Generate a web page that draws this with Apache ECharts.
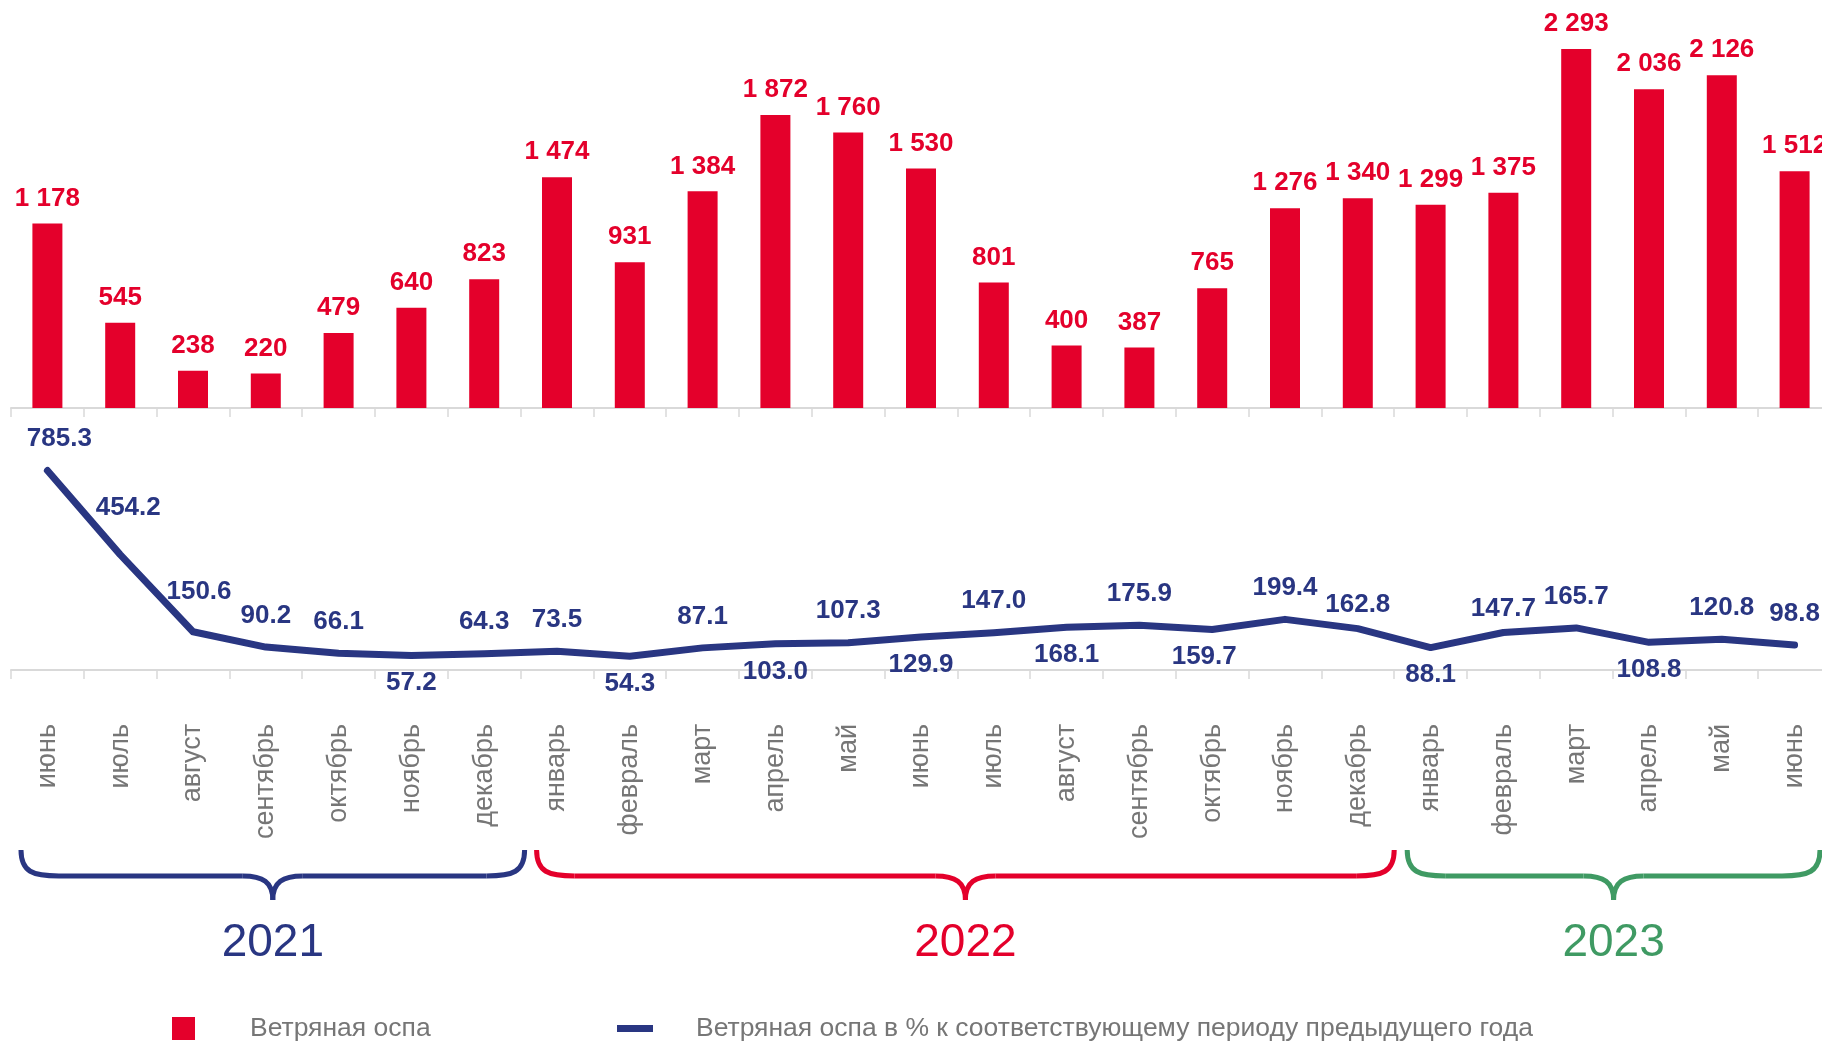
<!DOCTYPE html>
<html>
<head>
<meta charset="utf-8">
<script src="https://cdn.jsdelivr.net/npm/echarts/dist/echarts.min.js"></script>
<style>
html,body{margin:0;padding:0;background:#fff;}
#chart{width:1822px;height:1042px;}
</style>
</head>
<body>
<div id="chart"></div>
<script>
const months = ['июнь','июль','август','сентябрь','октябрь','ноябрь','декабрь',
  'январь','февраль','март','апрель','май','июнь','июль','август','сентябрь','октябрь','ноябрь','декабрь',
  'январь','февраль','март','апрель','май','июнь'];
const cases = [1178,545,238,220,479,640,823,1474,931,1384,1872,1760,1530,801,400,387,765,1276,1340,1299,1375,2293,2036,2126,1512];
const pctPrevYear = [785.3,454.2,150.6,90.2,66.1,57.2,64.3,73.5,54.3,87.1,103.0,107.3,129.9,147.0,168.1,175.9,159.7,199.4,162.8,88.1,147.7,165.7,108.8,120.8,98.8];
const years = ['2021','2022','2023'];
const yearSpans = [[0,6],[7,18],[19,24]];
const barName = 'Ветряная оспа';
const lineName = 'Ветряная оспа в % к соответствующему периоду предыдущего года';

const RED = '#e4002b', NAVY = '#293682', GREEN = '#3f9a63', GRAY = '#767676';
const yearColors = [NAVY, RED, GREEN];
const FONT = '"Liberation Sans", Arial, sans-serif';

const belowIdx = new Set([5,8,10,12,14,16,19,22]);
const nudge = {0:[12,0],1:[8,-15],2:[6,-8],16:[-8,0],18:[0,8],20:[0,8]};
const braceInset = [[10,4],[16,0],[13,-11]];

const fmtInt = v => String(v).replace(/\B(?=(\d{3})+(?!\d))/g, ' ');

const lineData = pctPrevYear.map((v,i) => ({
  value: v,
  label: {
    position: belowIdx.has(i) ? 'bottom' : 'top',
    distance: belowIdx.has(i) ? 14 : 18,
    offset: nudge[i] || [0,0]
  }
}));

const chart = echarts.init(document.getElementById('chart'), null, {renderer:'canvas'});

const axisCommon = {
  type: 'category',
  data: months,
  boundaryGap: true,
  axisLine: {show: true, lineStyle: {color: '#d9d9d9', width: 2}},
  axisTick: {show: true, length: 9, lineStyle: {color: '#d9d9d9', width: 1.5}}
};

chart.setOption({
  animation: false,
  textStyle: {fontFamily: FONT},
  grid: [
    {left: 11, width: 1820, top: 1, height: 407, outerBoundsMode: 'none', containLabel: false},
    {left: 11, width: 1820, top: 416, height: 254, outerBoundsMode: 'none', containLabel: false}
  ],
  xAxis: [
    Object.assign({}, axisCommon, {gridIndex: 0, axisLabel: {show: false}}),
    Object.assign({}, axisCommon, {gridIndex: 1, axisLabel: {
      show: true, rotate: 90, margin: 54, fontSize: 27, color: GRAY, fontFamily: FONT
    }})
  ],
  yAxis: [
    {gridIndex: 0, type: 'value', min: 0, max: 2600, show: false, splitLine: {show: false}},
    {gridIndex: 1, type: 'value', min: 0, max: 1000, show: false, splitLine: {show: false}}
  ],
  legend: [
    {data: [barName], left: 172, top: 1015, padding: 0, icon: 'rect', itemWidth: 23, itemHeight: 23,
     textStyle: {fontSize: 26.5, color: GRAY, fontFamily: FONT, padding: [0,0,0,50]}},
    {data: [lineName], left: 617, top: 1015, padding: 0, icon: 'rect', itemWidth: 36, itemHeight: 7,
     textStyle: {fontSize: 26.5, color: GRAY, fontFamily: FONT, padding: [0,0,0,38]}}
  ],
  series: [
    {
      name: barName, type: 'bar', xAxisIndex: 0, yAxisIndex: 0,
      data: cases, barWidth: 30,
      itemStyle: {color: RED},
      label: {show: true, position: 'top', distance: 12, color: RED, fontSize: 26,
              fontWeight: 'bold', fontFamily: FONT, formatter: p => fmtInt(p.value)}
    },
    {
      name: lineName, type: 'line', xAxisIndex: 1, yAxisIndex: 1,
      data: lineData, showSymbol: true, symbol: 'circle', symbolSize: 1,
      lineStyle: {color: NAVY, width: 7, cap: 'round', join: 'round'},
      itemStyle: {color: NAVY},
      label: {show: true, color: NAVY, fontSize: 26, fontWeight: 'bold', fontFamily: FONT,
              formatter: p => Number(p.value).toFixed(1)}
    }
  ]
});

// Year braces positioned from the category axis
const c0 = chart.convertToPixel({xAxisIndex: 1}, 0);
const c1 = chart.convertToPixel({xAxisIndex: 1}, 1);
const band = c1 - c0;
const yTop = 850, yMid = 876, yTip = 900, yText = 943;
const graphics = [];
yearSpans.forEach(([a,b], k) => {
  const left = chart.convertToPixel({xAxisIndex: 1}, a) - band/2;
  const right = chart.convertToPixel({xAxisIndex: 1}, b) + band/2;
  const x0 = left + braceInset[k][0], x1 = right + braceInset[k][1], xm = (x0 + x1) / 2;
  const st = {stroke: yearColors[k], lineWidth: 5, fill: null};
  graphics.push(
    {type:'bezierCurve', shape:{x1:x0,y1:yTop,cpx1:x0,cpy1:yMid-4,cpx2:x0+12,cpy2:yMid,x2:x0+38,y2:yMid}, style:st, silent:true},
    {type:'line', shape:{x1:x0+38,y1:yMid,x2:xm-30,y2:yMid}, style:st, silent:true},
    {type:'bezierCurve', shape:{x1:xm-30,y1:yMid,cpx1:xm-10,cpy1:yMid,cpx2:xm,cpy2:yMid+6,x2:xm,y2:yTip}, style:st, silent:true},
    {type:'bezierCurve', shape:{x1:xm,y1:yTip,cpx1:xm,cpy1:yMid+6,cpx2:xm+10,cpy2:yMid,x2:xm+30,y2:yMid}, style:st, silent:true},
    {type:'line', shape:{x1:xm+30,y1:yMid,x2:x1-38,y2:yMid}, style:st, silent:true},
    {type:'bezierCurve', shape:{x1:x1-38,y1:yMid,cpx1:x1-12,cpy1:yMid,cpx2:x1,cpy2:yMid-4,x2:x1,y2:yTop}, style:st, silent:true},
    {type:'text', x: xm, y: yText, silent:true,
     style:{text: years[k], fill: yearColors[k], font: '46px ' + FONT, textAlign:'center', textVerticalAlign:'middle'}}
  );
});
chart.setOption({graphic: graphics});
</script>
</body>
</html>
